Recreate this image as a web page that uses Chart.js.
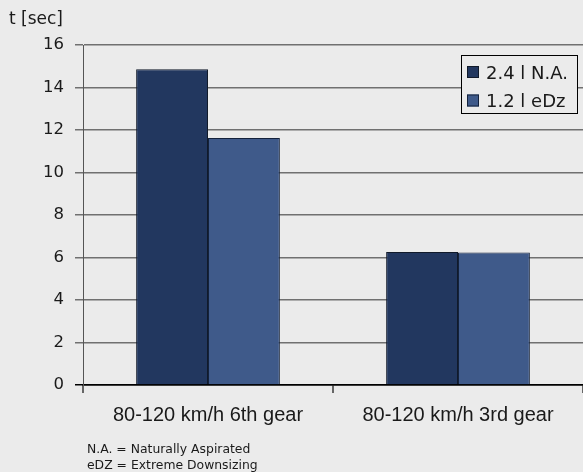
<!DOCTYPE html>
<html>
<head>
<meta charset="utf-8">
<script src="https://cdn.jsdelivr.net/npm/chart.js@4/dist/chart.umd.min.js"></script>
<style>
  html, body { margin: 0; padding: 0; background: #ebebeb; }
  #wrap { position: relative; width: 583px; height: 472px; overflow: hidden; }
  canvas { position: absolute; left: 0; top: 0; }
  .txt { position: absolute; font-family: "DejaVu Sans", sans-serif; color: #1a1a1a; white-space: nowrap; }
  #ytitle { left: 9px; top: 8px; font-size: 17px; line-height: 20px; }
  #notes { left: 87px; top: 441px; font-size: 12.4px; line-height: 15.5px; }
</style>
</head>
<body>
<div id="wrap">
  <canvas id="c" width="583" height="472"></canvas>
  <div class="txt" id="ytitle">t [sec]</div>
  <div class="txt" id="notes">N.A. = Naturally Aspirated<br>eDZ = Extreme Downsizing</div>
</div>
<script>
const categories = ["80-120 km/h 6th gear", "80-120 km/h 3rd gear"];
const seriesNames = ["2.4 l N.A.", "1.2 l eDz"];
const naValues = [14.86, 6.26];
const edzValues = [11.62, 6.23];
const yTicks = [0, 2, 4, 6, 8, 10, 12, 14, 16];

const colors = ["#22375f", "#3f5a8a"];
const borders = ["#111a2a", "#14223c"];

const boxLegend = {
  id: 'boxLegend',
  afterDraw(chart) {
    const ctx = chart.ctx;
    const x0 = 461, y0 = 55, w = 116, h = 58;
    ctx.save();
    ctx.fillStyle = '#ebebeb';
    ctx.fillRect(x0, y0, w, h);
    ctx.strokeStyle = '#000';
    ctx.lineWidth = 1;
    ctx.strokeRect(x0 + 0.5, y0 + 0.5, w, h);
    ctx.font = '18px "DejaVu Sans", sans-serif';
    ctx.textBaseline = 'alphabetic';
    chart.data.datasets.forEach((ds, i) => {
      const cy = 72 + i * 28.5;
      ctx.fillStyle = ds.backgroundColor;
      ctx.fillRect(x0 + 6, cy - 6, 12, 12);
      ctx.strokeStyle = ds.borderColor;
      ctx.strokeRect(x0 + 6.5, cy - 5.5, 11, 11);
      ctx.fillStyle = '#1a1a1a';
      ctx.fillText(ds.label, x0 + 25, cy + 6.5);
    });
    ctx.restore();
  }
};

new Chart(document.getElementById('c'), {
  type: 'bar',
  data: {
    labels: categories,
    datasets: [
      { label: seriesNames[0], data: naValues, backgroundColor: colors[0], borderColor: borders[0], borderWidth: 1 },
      { label: seriesNames[1], data: edzValues, backgroundColor: colors[1], borderColor: borders[1], borderWidth: 1 }
    ]
  },
  options: {
    responsive: false,
    animation: false,
    devicePixelRatio: 1,
    layout: { padding: { top: 45, left: 0, right: 0, bottom: 0 } },
    datasets: { bar: { barPercentage: 1, categoryPercentage: 0.575 } },
    plugins: { legend: { display: false }, tooltip: { enabled: false }, title: { display: false } },
    scales: {
      x: {
        afterFit(s) { s.height = 87; },
        grid: { offset: true, drawOnChartArea: false, drawTicks: true, tickLength: 8, color: '#666', lineWidth: 2 },
        border: { display: true, color: '#000', width: 1.5 },
        ticks: { color: '#1a1a1a', font: { family: '"Liberation Sans", Arial, sans-serif', size: 20 }, padding: 10 }
      },
      y: {
        min: 0, max: 16,
        afterFit(s) { s.width = 83; },
        afterBuildTicks(s) { s.ticks = yTicks.map(v => ({ value: v })); },
        grid: {
          color: (c) => c.tick && c.tick.value === 0 ? '#000' : '#707070',
          lineWidth: 1.5,
          tickLength: 8, drawTicks: true
        },
        border: { display: true, color: '#555', width: 1 },
        ticks: { color: '#1a1a1a', font: { family: '"DejaVu Sans", sans-serif', size: 16.5 }, padding: 11 }
      }
    }
  },
  plugins: [boxLegend]
});
</script>
</body>
</html>
